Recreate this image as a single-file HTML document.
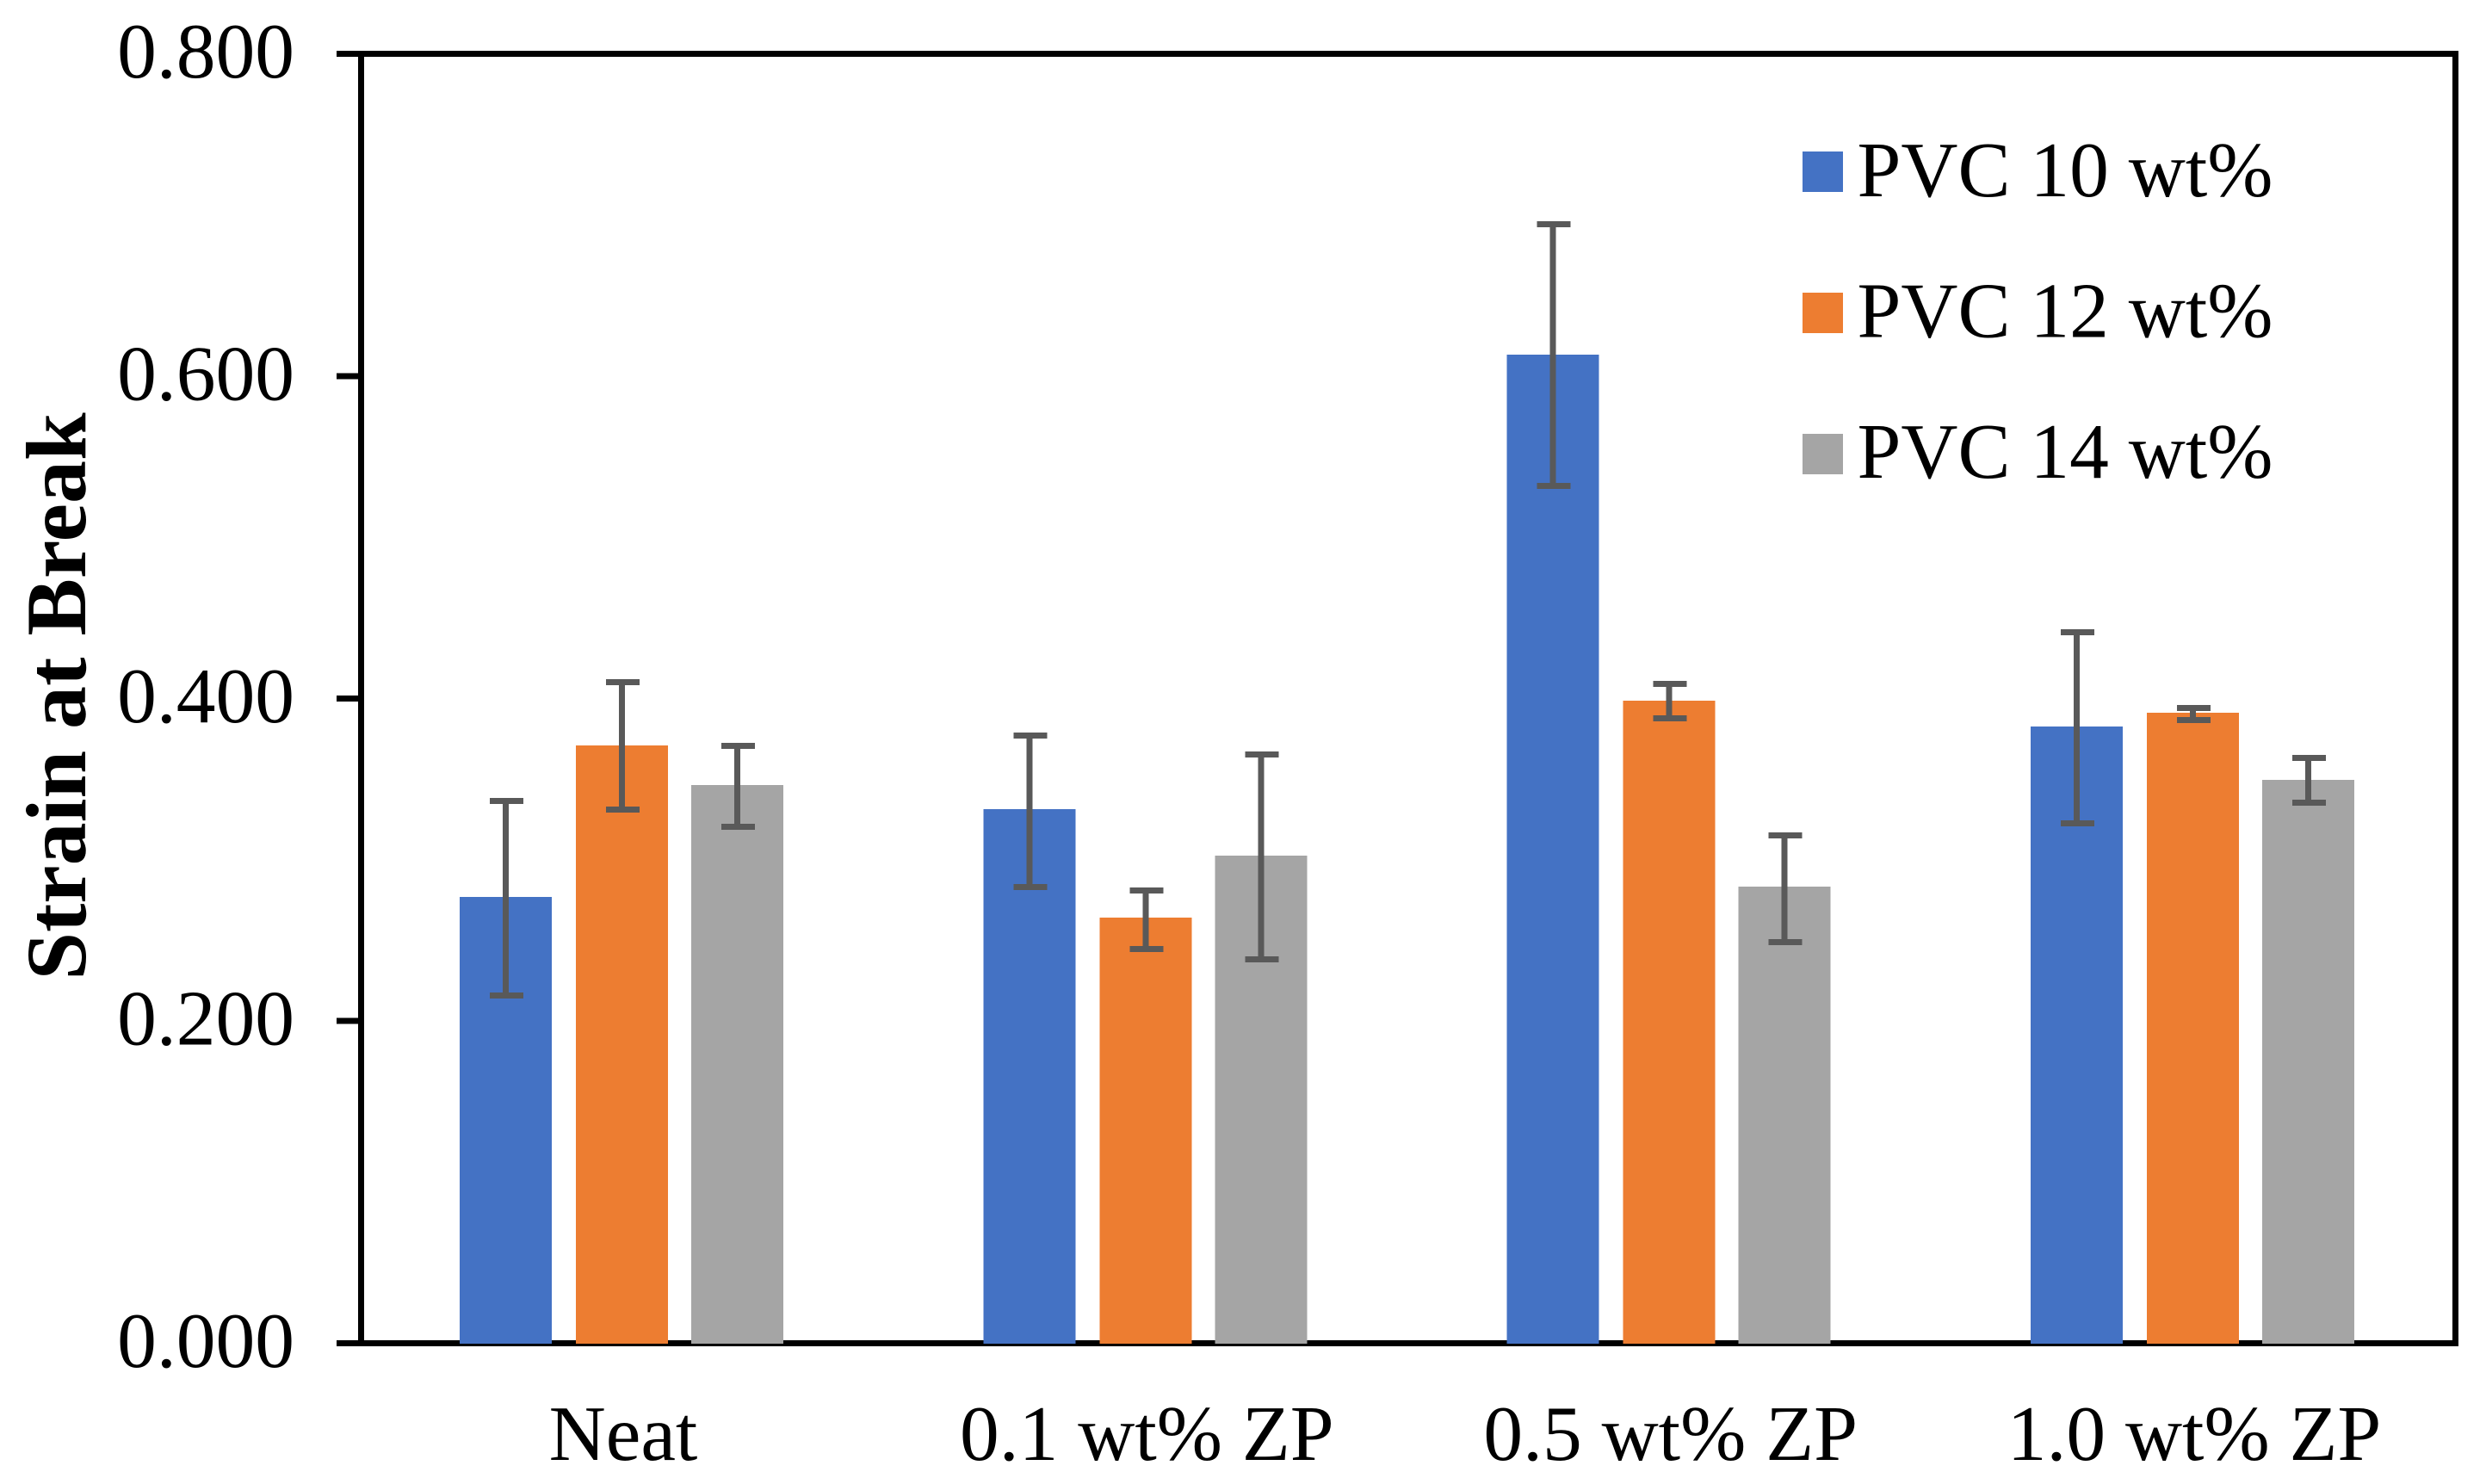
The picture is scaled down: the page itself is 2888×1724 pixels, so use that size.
<!DOCTYPE html>
<html lang="en">
<head>
<meta charset="utf-8">
<title>Strain at Break</title>
<style>
html,body{margin:0;padding:0;background:#fff;}
#chart{display:block;width:2888px;height:1724px;font-family:"Liberation Serif","Times New Roman",serif;}
#chart text{fill:#000;font-size:91.5px;}
#chart rect{shape-rendering:crispEdges;}
</style>
</head>
<body>
<svg id="chart" xmlns="http://www.w3.org/2000/svg" width="2888" height="1724" viewBox="0 0 2888 1724">
  <rect x="0" y="0" width="2888" height="1724" fill="#ffffff"/>
  <g id="axes"></g>
  <g id="bars"></g>
  <g id="errors"></g>
  <g id="labels"></g>
  <g id="legend"></g>
  <text transform="translate(99,809) rotate(-90)" text-anchor="middle" style="font-size:100px;font-weight:bold">Strain at Break</text>
</svg>
<script>
const categories = ['Neat', '0.1 wt% ZP', '0.5 wt% ZP', '1.0 wt% ZP'];
const seriesNames = ['PVC 10 wt%', 'PVC 12 wt%', 'PVC 14 wt%'];
const seriesColors = ['#4472C4', '#ED7D31', '#A5A5A5'];
const tickLabels = ['0.000', '0.200', '0.400', '0.600', '0.800'];
const pvc10 = [0.2769, 0.3314, 0.6134, 0.3826];
const pvc12 = [0.3709, 0.2641, 0.3987, 0.3912];
const pvc14 = [0.3463, 0.3025, 0.2833, 0.3495];
const pvc10ErrPlus = [0.0595, 0.0457, 0.0809, 0.0585];
const pvc10ErrMinus = [0.0611, 0.0483, 0.0814, 0.0601];
const pvc12ErrPlus = [0.0393, 0.0168, 0.0104, 0.0029];
const pvc12ErrMinus = [0.0398, 0.0195, 0.0109, 0.0045];
const pvc14ErrPlus = [0.0243, 0.0628, 0.0318, 0.0136];
const pvc14ErrMinus = [0.0259, 0.0644, 0.0344, 0.0142];

const SVG_NS = 'http://www.w3.org/2000/svg';
const yMax = 0.8;
const plotTop = 62.5;
const plotBottom = 1560.5;
const plotLeft = 419.5;
const plotRight = 2852.5;
const lineW = 7;
const barW = 107;
const capW = 39;

function yScale(v) {
  return plotBottom - (v / yMax) * (plotBottom - plotTop);
}
function xCategory(i) {
  return plotLeft + 303 + i * ((plotRight - plotLeft - 608) / 3);
}
function xBar(i, s) {
  return xCategory(i) + [-135, 0, 134][s];
}
function makeRect(parent, x, y, w, h, fill) {
  const r = document.createElementNS(SVG_NS, 'rect');
  r.setAttribute('x', x);
  r.setAttribute('y', y);
  r.setAttribute('width', w);
  r.setAttribute('height', h);
  r.setAttribute('fill', fill);
  parent.appendChild(r);
  return r;
}
function makeText(parent, x, y, anchor, str) {
  const t = document.createElementNS(SVG_NS, 'text');
  t.setAttribute('x', x);
  t.setAttribute('y', y);
  t.setAttribute('text-anchor', anchor);
  t.textContent = str;
  parent.appendChild(t);
  return t;
}

const axes = document.getElementById('axes');
const bars = document.getElementById('bars');
const errors = document.getElementById('errors');
const labels = document.getElementById('labels');
const legend = document.getElementById('legend');

const frameTop = makeRect(axes, 391, plotTop - lineW / 2, plotRight + lineW / 2 - 391, lineW, '#000');


const frameBottom = makeRect(axes, plotLeft - lineW / 2, plotBottom - lineW / 2, plotRight - plotLeft + lineW, lineW, '#000');


const frameLeft = makeRect(axes, plotLeft - lineW / 2, plotTop, lineW, plotBottom - plotTop, '#000');


const frameRight = makeRect(axes, plotRight - lineW / 2, plotTop, lineW, plotBottom - plotTop, '#000');



tickLabels.forEach(function (label) {
  const v = parseFloat(label);
  const tick = makeRect(axes, 391, yScale(v) - lineW / 2, plotLeft - 391, lineW, '#000');
  
  
  const text = makeText(labels, 342, yScale(v) + 27.5, 'end', label);
  
  
});

categories.forEach(function (cat, i) {
  const text = makeText(labels, xCategory(i) + 1.5, 1696, 'middle', cat);
  
  
});

const seriesValues = [pvc10, pvc12, pvc14];
const seriesErrPlus = [pvc10ErrPlus, pvc12ErrPlus, pvc14ErrPlus];
const seriesErrMinus = [pvc10ErrMinus, pvc12ErrMinus, pvc14ErrMinus];

seriesValues.forEach(function (values, s) {
  values.forEach(function (v, i) {
    const cx = xBar(i, s);
    const top = yScale(v);
    const bar = makeRect(bars, cx - barW / 2, top, barW, yScale(0) + 0.5 - top, seriesColors[s]);
    
    

    const hi = yScale(v + seriesErrPlus[s][i]);
    const lo = yScale(v - seriesErrMinus[s][i]);
    const stem = makeRect(errors, cx - lineW / 2, hi, lineW, lo - hi, '#595959');
    
    
    const capHi = makeRect(errors, cx + 1 - capW / 2, hi - lineW / 2, capW, lineW, '#595959');
    
    
    const capLo = makeRect(errors, cx + 1 - capW / 2, lo - lineW / 2, capW, lineW, '#595959');
    
    
  });
});

seriesNames.forEach(function (name, s) {
  const swatch = makeRect(legend, 2094, 176 + s * 164, 47, 47, seriesColors[s]);
  
  
  const text = makeText(legend, 2157.5, 228 + s * 163.5, 'start', name);
  
  
});
</script>
</body>
</html>
